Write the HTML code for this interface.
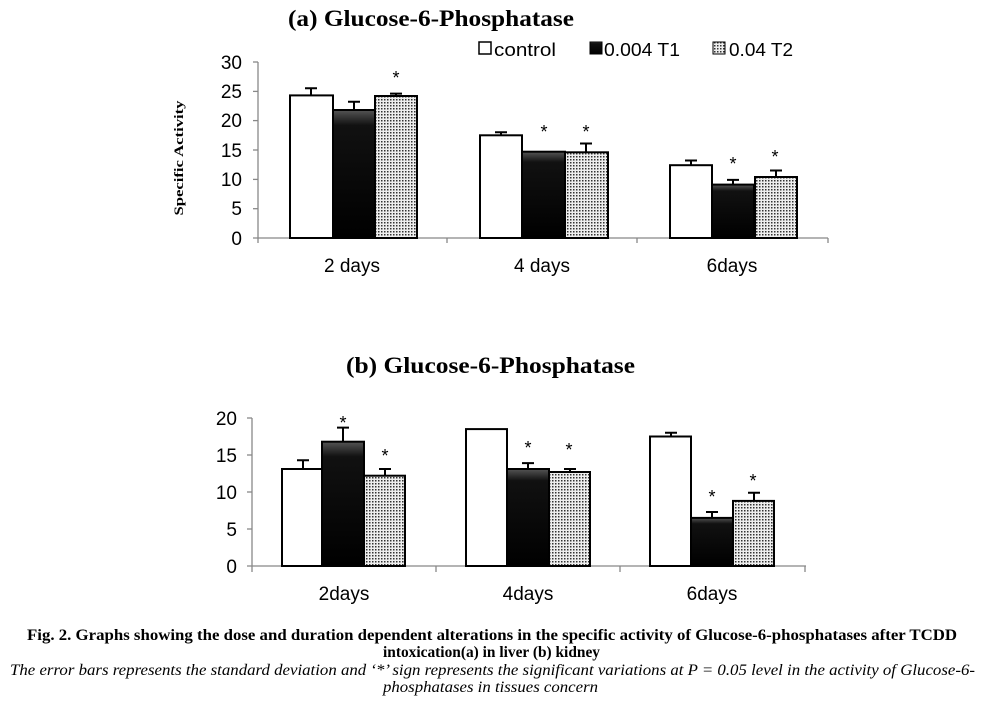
<!DOCTYPE html>
<html><head><style>
body{margin:0;background:#fff;width:983px;height:719px;overflow:hidden}
svg{display:block}
</style></head><body>
<svg width="983" height="719" xmlns="http://www.w3.org/2000/svg">
<defs>
<pattern id="dots" width="3" height="3" patternUnits="userSpaceOnUse">
<rect width="3" height="3" fill="#eee"/><rect width="1.5" height="1.5" fill="#333"/>
</pattern>
<linearGradient id="blk" x1="0" y1="0" x2="0" y2="1">
<stop offset="0" stop-color="#555"/><stop offset="0.12" stop-color="#111"/><stop offset="1" stop-color="#000"/>
</linearGradient>
</defs>
<g font-family="Liberation Serif, serif" font-weight="bold" fill="#000">
<text x="288" y="26" font-size="23" textLength="286" lengthAdjust="spacingAndGlyphs">(a) Glucose-6-Phosphatase</text>
<text x="346" y="373" font-size="23" textLength="289" lengthAdjust="spacingAndGlyphs">(b) Glucose-6-Phosphatase</text>
<text x="125.5" y="158" font-size="13" textLength="115" lengthAdjust="spacingAndGlyphs" transform="rotate(-90 183 158)">Specific Activity</text>
</g>
<!-- legend -->
<g font-family="Liberation Sans, sans-serif" font-size="18">
<rect x="479" y="42" width="12" height="12" fill="#fff" stroke="#000" stroke-width="1.5"/>
<text x="494" y="56" textLength="62" lengthAdjust="spacingAndGlyphs">control</text>
<rect x="590" y="42" width="12" height="12" fill="url(#blk)" stroke="#000"/>
<text x="604" y="56" textLength="76" lengthAdjust="spacingAndGlyphs">0.004 T1</text>
<rect x="713" y="42" width="12" height="12" fill="url(#dots)" stroke="#000"/>
<text x="729" y="56" textLength="64" lengthAdjust="spacingAndGlyphs">0.04 T2</text>
</g>
<!-- chart a axes -->
<g stroke="#888" stroke-width="1.3">
<line x1="258" y1="62" x2="258" y2="238"/>
<line x1="253" y1="62" x2="258" y2="62"/><line x1="253" y1="91.4" x2="258" y2="91.4"/><line x1="253" y1="120.6" x2="258" y2="120.6"/><line x1="253" y1="150" x2="258" y2="150"/><line x1="253" y1="179.4" x2="258" y2="179.4"/><line x1="253" y1="208.7" x2="258" y2="208.7"/>
<line x1="253" y1="238" x2="828" y2="238"/>
<line x1="258" y1="238" x2="258" y2="243"/><line x1="447" y1="238" x2="447" y2="243"/><line x1="637" y1="238" x2="637" y2="243"/><line x1="828" y1="238" x2="828" y2="243"/>
</g>
<g font-family="Liberation Sans, sans-serif" font-size="19" text-anchor="end">
<text x="242" y="69">30</text><text x="242" y="98">25</text><text x="242" y="127">20</text><text x="242" y="157">15</text><text x="242" y="186">10</text><text x="242" y="215">5</text><text x="242" y="245">0</text>
</g>
<g font-family="Liberation Sans, sans-serif" font-size="19" text-anchor="middle">
<text x="352" y="272">2 days</text><text x="542" y="272">4 days</text><text x="732" y="272">6days</text>
</g>
<!-- bars a -->
<g stroke="#000" stroke-width="2">
<rect x="290" y="95.4" width="43" height="142.6" fill="#fff"/>
<rect x="333" y="110" width="42" height="128" fill="url(#blk)"/>
<rect x="375" y="96" width="42" height="142" fill="url(#dots)"/>
<rect x="480" y="135.3" width="42" height="102.7" fill="#fff"/>
<rect x="522" y="151.7" width="43" height="86.3" fill="url(#blk)"/>
<rect x="565" y="152.3" width="43" height="85.7" fill="url(#dots)"/>
<rect x="670" y="165.2" width="42" height="72.8" fill="#fff"/>
<rect x="712" y="184.6" width="42" height="53.4" fill="url(#blk)"/>
<rect x="755" y="177" width="42" height="61" fill="url(#dots)"/>
</g>
<g stroke="#000" stroke-width="2">
<path d="M311 95V88.3M305 88.3H317"/>
<path d="M354 110V101.8M348 101.8H360"/>
<path d="M396 96V93.6M390 93.6H402"/>
<path d="M501 135V132.3M495 132.3H507"/>
<path d="M586 152V143.5M580 143.5H592"/>
<path d="M691 165V160.5M685 160.5H697"/>
<path d="M733 184V179.9M727 179.9H739"/>
<path d="M776 177V170.5M770 170.5H782"/>
</g>
<g font-family="Liberation Sans, sans-serif" font-size="18" text-anchor="middle">
<text x="396" y="84">*</text><text x="544" y="138">*</text><text x="586" y="138">*</text><text x="733" y="170">*</text><text x="775" y="163">*</text>
</g>
<!-- chart b axes -->
<g stroke="#888" stroke-width="1.3">
<line x1="252" y1="418" x2="252" y2="566"/>
<line x1="247" y1="418" x2="252" y2="418"/><line x1="247" y1="455" x2="252" y2="455"/><line x1="247" y1="492" x2="252" y2="492"/><line x1="247" y1="529" x2="252" y2="529"/>
<line x1="247" y1="566" x2="806" y2="566"/>
<line x1="252" y1="566" x2="252" y2="572"/><line x1="436" y1="566" x2="436" y2="572"/><line x1="620" y1="566" x2="620" y2="572"/><line x1="805" y1="566" x2="805" y2="572"/>
</g>
<g font-family="Liberation Sans, sans-serif" font-size="19" text-anchor="end">
<text x="237" y="425">20</text><text x="237" y="462">15</text><text x="237" y="499">10</text><text x="237" y="536">5</text><text x="237" y="573">0</text>
</g>
<g font-family="Liberation Sans, sans-serif" font-size="19" text-anchor="middle">
<text x="344" y="600">2days</text><text x="528" y="600">4days</text><text x="712" y="600">6days</text>
</g>
<g stroke="#000" stroke-width="2">
<rect x="282" y="469" width="40" height="97" fill="#fff"/>
<rect x="322" y="441.7" width="42" height="124.3" fill="url(#blk)"/>
<rect x="364" y="475.7" width="41" height="90.3" fill="url(#dots)"/>
<rect x="466" y="429.1" width="41" height="136.9" fill="#fff"/>
<rect x="507" y="469" width="42" height="97" fill="url(#blk)"/>
<rect x="549" y="472" width="41" height="94" fill="url(#dots)"/>
<rect x="650" y="436.5" width="41" height="129.5" fill="#fff"/>
<rect x="691" y="517.9" width="42" height="48.1" fill="url(#blk)"/>
<rect x="733" y="500.9" width="41" height="65.1" fill="url(#dots)"/>
</g>
<g stroke="#000" stroke-width="2">
<path d="M303 469V460.2M297 460.2H309"/>
<path d="M343 442V427.6M337 427.6H349"/>
<path d="M385 476V469M379 469H391"/>
<path d="M528 469V463.1M522 463.1H534"/>
<path d="M570 472V469M564 469H576"/>
<path d="M671 436V432.8M665 432.8H677"/>
<path d="M712 518V512M706 512H718"/>
<path d="M754 501V492.7M748 492.7H760"/>
</g>
<g font-family="Liberation Sans, sans-serif" font-size="18" text-anchor="middle">
<text x="343" y="429">*</text><text x="385" y="462">*</text><text x="528" y="454">*</text><text x="569" y="456">*</text><text x="712" y="503">*</text><text x="753" y="487">*</text>
</g>
<!-- caption -->
<g font-family="Liberation Serif, serif" font-size="16">
<text x="27" y="640" font-weight="bold" textLength="930" lengthAdjust="spacingAndGlyphs">Fig. 2. Graphs showing the dose and duration dependent alterations in the specific activity of Glucose-6-phosphatases after TCDD</text>
<text x="383" y="657" font-weight="bold" textLength="217" lengthAdjust="spacingAndGlyphs">intoxication(a) in liver (b) kidney</text>
<text x="10" y="675" font-style="italic" textLength="965" lengthAdjust="spacingAndGlyphs">The error bars represents the standard deviation and ‘*’ sign represents the significant variations at P = 0.05 level in the activity of Glucose-6-</text>
<text x="383" y="692" font-style="italic" textLength="215" lengthAdjust="spacingAndGlyphs">phosphatases in tissues concern</text>
</g>
</svg>
</body></html>
